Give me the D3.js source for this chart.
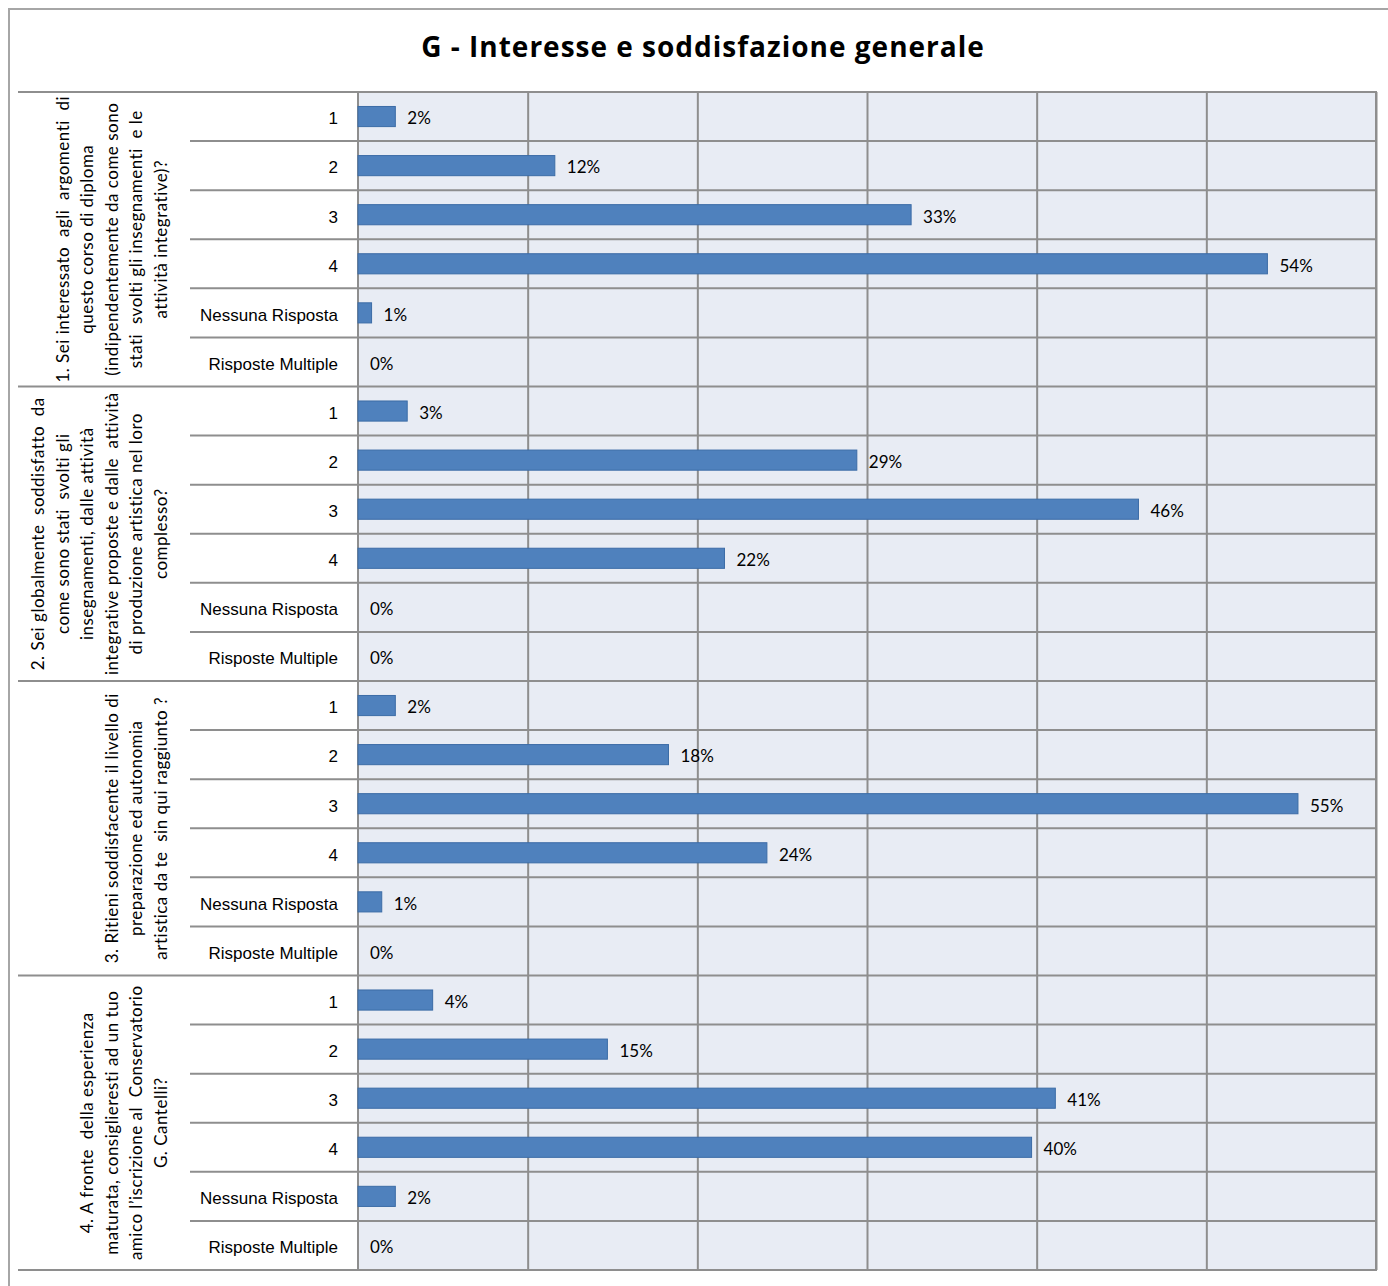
<!DOCTYPE html>
<html>
<head>
<meta charset="utf-8">
<style>
    body { margin: 0; background: #fff; }
    svg { display: block; font-family: Lato, 'Open Sans', sans-serif; }
    .title { font-family: 'Open Sans', Lato, sans-serif; font-size: 28px; font-weight: bold; letter-spacing: 1px; }
    .sub .tick text { font-size: 17px; fill: #000; }
    .sub .domain { display: none; }
    .grid .domain { display: none; }
    .grid .tick line { stroke: #8e8e8e; stroke-width: 2; }
    .question { font-size: 17px; letter-spacing: 0.5px; fill: #000; }
    .value { font-size: 17px; fill: #000; }
</style>
</head>
<body>
<svg width="1388" height="1286"></svg>
<script src="https://d3js.org/d3.v7.min.js"></script>
<script>
    // questions (each one a list of text lines, as wrapped in the picture)
    let questions = [
        ["1. Sei interessato  agli  argomenti  di", "questo corso di diploma", "(indipendentemente da come sono", "stati  svolti gli insegnamenti  e le", "attività integrative)?"],
        ["2. Sei globalmente  soddisfatto  da", "come sono stati  svolti gli", "insegnamenti, dalle attività", "integrative proposte e dalle  attività", "di produzione artistica nel loro", "complesso?"],
        ["3. Ritieni soddisfacente il livello di", "preparazione ed autonomia", "artistica da te  sin qui raggiunto ?"],
        ["4. A fronte  della esperienza", "maturata, consiglieresti ad un tuo", "amico l’iscrizione al  Conservatorio", "G. Cantelli?"]
    ]

    let answers = ["1", "2", "3", "4", "Nessuna Risposta", "Risposte Multiple"]

    // percentages
    let q1 = [2.2, 11.6, 32.6, 53.6, 0.8, 0]
    let q2 = [2.9, 29.4, 46.0, 21.6, 0, 0]
    let q3 = [2.2, 18.3, 55.4, 24.1, 1.4, 0]
    let q4 = [4.4, 14.7, 41.1, 39.7, 2.2, 0]

    let gridTicks = [10, 20, 30, 40, 50, 60]

    let series = [q1, q2, q3, q4]

    let rows = []
    series.forEach((s, qi) => {
        s.forEach((v, ai) => {
            rows.push({ key: qi + "-" + ai, q: qi, answer: answers[ai], value: v })
        })
    })

    let svg = d3.select("svg")

    let plot = { left: 358, right: 1376, top: 92, bottom: 1270 }

    let x = d3.scaleLinear()
        .domain([0, 60])
        .range([plot.left, plot.right])

    let y = d3.scaleBand()
        .domain(rows.map(d => d.key))
        .range([plot.top, plot.bottom])
        .paddingInner(0.59)
        .paddingOuter(0.295)

    let step = y.step()
    let rowTop = d => y(d.key) - y.paddingOuter() * step

    // outer frame
    svg.append("rect")
        .attr("x", 9).attr("y", 9)
        .attr("width", 1420).attr("height", 1320)
        .attr("fill", "none")
        .attr("stroke", "#a6a6a6")
        .attr("stroke-width", 2)

    svg.append("text")
        .attr("class", "title")
        .attr("x", 703)
        .attr("y", 57)
        .attr("text-anchor", "middle")
        .text("G - Interesse e soddisfazione generale")

    // plot background
    svg.append("rect")
        .attr("x", plot.left).attr("y", plot.top)
        .attr("width", plot.right - plot.left)
        .attr("height", plot.bottom - plot.top)
        .attr("fill", "#e8ecf4")

    // vertical gridlines
    svg.append("g")
        .attr("class", "grid")
        .attr("transform", `translate(0, ${plot.bottom})`)
        .call(d3.axisBottom(x).tickValues(gridTicks).tickSize(-(plot.bottom - plot.top)).tickFormat(""))

    // horizontal row lines, plot part and label part
    let bounds = rows.map((d, i) => ({ y: rowTop(d), group: i % answers.length == 0 }))
    bounds.push({ y: plot.bottom, group: true })

    svg.append("g")
        .selectAll("line")
        .data(bounds)
        .join("line")
        .attr("x1", d => d.group ? 18 : 190)
        .attr("x2", plot.right)
        .attr("y1", d => d.y)
        .attr("y2", d => d.y)
        .attr("stroke", "#8e8e8e")
        .attr("stroke-width", 2)

    // plot border
    svg.append("rect")
        .attr("x", plot.left).attr("y", plot.top)
        .attr("width", plot.right - plot.left)
        .attr("height", plot.bottom - plot.top)
        .attr("fill", "none")
        .attr("stroke", "#8e8e8e")
        .attr("stroke-width", 2)

    // bars
    svg.append("g")
        .selectAll("rect")
        .data(rows)
        .join("rect")
        .attr("x", x(0))
        .attr("y", d => y(d.key))
        .attr("width", d => x(d.value) - x(0))
        .attr("height", y.bandwidth())
        .attr("fill", "#4f81bd")
        .attr("stroke", d => d.value > 0 ? "#3c6ca6" : "none")
        .attr("stroke-width", 1)

    svg.append("g")
        .selectAll("text")
        .data(rows)
        .join("text")
        .attr("class", "value")
        .attr("x", d => x(d.value) + 12)
        .attr("y", d => y(d.key) + y.bandwidth() / 2)
        .attr("dy", "0.46em")
        .text(d => Math.round(d.value) + "%")

    // answer labels
    svg.append("g")
        .attr("class", "sub")
        .attr("transform", `translate(${plot.left}, 0)`)
        .call(d3.axisLeft(y).tickSize(0).tickPadding(20).tickFormat((k, i) => rows[i].answer))
        .call(g => g.selectAll(".tick text").attr("dy", "0.46em"))

    // rotated question labels
    let groupH = step * answers.length
    let lineGap = 24.6
    let lastBase = 167

    questions.forEach((lines, qi) => {
        let cy = plot.top + groupH * qi + groupH / 2
        let t = svg.append("text")
            .attr("class", "question")
            .attr("text-anchor", "middle")
            .attr("transform", `translate(0, ${cy}) rotate(-90)`)
        t.selectAll("tspan")
            .data(lines)
            .join("tspan")
            .attr("x", 0)
            .attr("y", (d, i) => lastBase - (lines.length - 1 - i) * lineGap)
            .style("white-space", "pre")
            .text(d => d)
    })
</script>
</body>
</html>
